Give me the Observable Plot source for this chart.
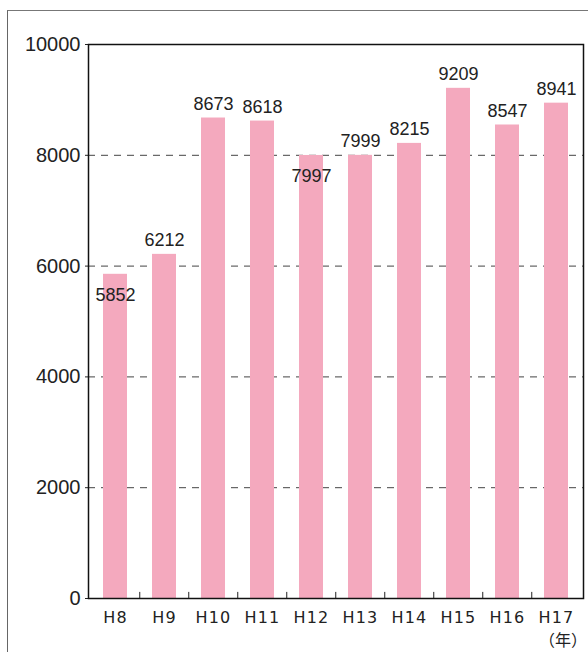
<!DOCTYPE html>
<html>
<head>
<meta charset="utf-8">
<script src="https://cdn.jsdelivr.net/npm/d3@7"></script>
<script src="https://cdn.jsdelivr.net/npm/@observablehq/plot@0.6"></script>
<style>
  html, body { margin: 0; padding: 0; background: #fff; overflow: hidden; }
  #wrap { position: relative; width: 588px; height: 652px; }
  #frame {
    position: absolute; left: 7px; top: 10px; width: 640px; height: 700px;
    border-left: 1.5px solid #666; border-top: 1.5px solid #777;
  }
  #unit {
    position: absolute; right: 1px; top: 627px; white-space: nowrap;
    font: 16px "Noto Sans CJK JP", sans-serif; color: #222;
  }
</style>
</head>
<body>
<div id="wrap">
  <div id="frame"></div>
  <div id="chart"></div>
  <div id="unit">（年）</div>
</div>
<script>
// 年度（平成）ごとの件数
const years = ["H8", "H9", "H10", "H11", "H12", "H13", "H14", "H15", "H16", "H17"];
const counts = [5852, 6212, 8673, 8618, 7997, 7999, 8215, 9209, 8547, 8941];
const yTicks = [0, 2000, 4000, 6000, 8000, 10000];
const gridTicks = [2000, 4000, 6000, 8000];
// labels that sit just under the top of their bar
const lowLabels = ["H8", "H12"];

const data = years.map((year, i) => ({year, count: counts[i]}));
const pink = "#f4a9be";

const chart = Plot.plot({
  width: 588,
  height: 652,
  marginLeft: 88,
  marginRight: 5,
  marginTop: 44,
  marginBottom: 54,
  style: {background: "transparent", color: "#222"},
  x: {domain: years, paddingInner: 0.52, paddingOuter: 0.26, label: null},
  y: {domain: [0, 10000], label: null},
  marks: [
    Plot.ruleY(gridTicks, {stroke: "#444", strokeWidth: 1, strokeDasharray: "7,6"}),
    Plot.barY(data, {x: "year", y: "count", fill: pink}),
    Plot.text(data.filter(d => !lowLabels.includes(d.year)), {
      x: "year", y: "count", text: d => String(d.count),
      dy: -14, fontSize: 18, fontFamily: "Liberation Sans, Arial, sans-serif", fill: "#222"
    }),
    Plot.text(data.filter(d => lowLabels.includes(d.year)), {
      x: "year", y: "count", text: d => String(d.count),
      dy: 21, fontSize: 18, fontFamily: "Liberation Sans, Arial, sans-serif", fill: "#222"
    }),
    Plot.axisY({
      ticks: yTicks, tickSize: 3, tickPadding: 5, tickFormat: d => String(d),
      fontSize: 20, fontFamily: "Liberation Sans, Arial, sans-serif", label: null
    }),
    Plot.axisX({
      tickSize: 0, tickPadding: 13, fontSize: 16,
      fontFamily: "DejaVu Sans, sans-serif", label: null
    }),
    // short tick marks between bars along the baseline
    Plot.ruleX(years.slice(1), {
      x: d => d, y1: 0, y2: 110, dx: -24.75, stroke: "#222", strokeWidth: 1
    }),
    Plot.frame({stroke: "#111", strokeWidth: 1.5})
  ]
});
// spread the category labels a little
chart.querySelectorAll("[aria-label='x-axis tick label'] text").forEach(t => t.setAttribute("letter-spacing", "1.2"));
document.getElementById("chart").appendChild(chart);
</script>
</body>
</html>
